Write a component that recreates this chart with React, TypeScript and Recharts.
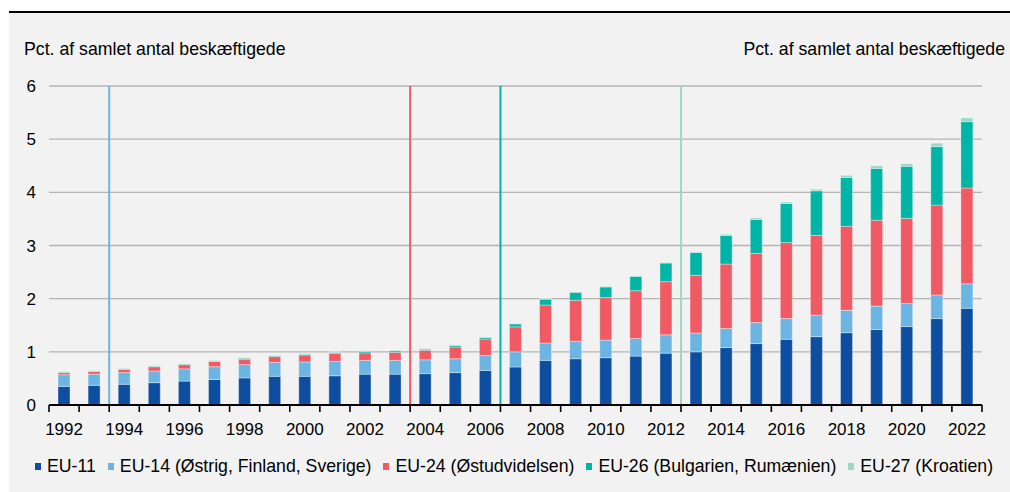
import { Bar, BarChart, CartesianGrid, ReferenceLine, XAxis, YAxis } from "recharts";

// Beskæftigede fra EU-lande, andel af samlet beskæftigelse, stablet efter
// udvidelsesrunde. Lodrette streger markerer udvidelserne.

const years = [
  "1992", "1993", "1994", "1995", "1996", "1997", "1998", "1999", "2000", "2001",
  "2002", "2003", "2004", "2005", "2006", "2007", "2008", "2009", "2010", "2011",
  "2012", "2013", "2014", "2015", "2016", "2017", "2018", "2019", "2020", "2021",
  "2022",
];

const eu11 = [
  0.35, 0.37, 0.39, 0.42, 0.45, 0.48, 0.51, 0.54, 0.54, 0.55, 0.58, 0.58, 0.59,
  0.61, 0.65, 0.715, 0.84, 0.87, 0.89, 0.92, 0.975, 1.0, 1.08, 1.155, 1.235,
  1.285, 1.36, 1.42, 1.475, 1.625, 1.82,
];
const eu14 = [
  0.22, 0.21, 0.22, 0.22, 0.23, 0.24, 0.25, 0.26, 0.27, 0.27, 0.26, 0.26, 0.26,
  0.26, 0.28, 0.285, 0.325, 0.33, 0.33, 0.33, 0.345, 0.355, 0.36, 0.395, 0.39,
  0.405, 0.42, 0.44, 0.435, 0.445, 0.46,
];
const eu24 = [
  0.04, 0.05, 0.06, 0.08, 0.08, 0.1, 0.1, 0.11, 0.13, 0.15, 0.14, 0.15, 0.18,
  0.22, 0.31, 0.47, 0.715, 0.77, 0.8, 0.9, 1.0, 1.085, 1.21, 1.3, 1.43, 1.5,
  1.58, 1.615, 1.6, 1.69, 1.8,
];
const eu26 = [
  0.01, 0.01, 0.01, 0.01, 0.01, 0.01, 0.02, 0.015, 0.015, 0.02, 0.03, 0.03,
  0.02, 0.03, 0.03, 0.055, 0.11, 0.15, 0.2, 0.27, 0.35, 0.43, 0.54, 0.64, 0.735,
  0.84, 0.92, 0.975, 0.98, 1.1, 1.25,
];
const eu27 = [
  0.012, 0.012, 0.012, 0.012, 0.012, 0.012, 0.012, 0.012, 0.012, 0.012, 0.012,
  0.012, 0.012, 0.012, 0.012, 0.012, 0.012, 0.012, 0.012, 0.012, 0.012, 0.015,
  0.02, 0.03, 0.03, 0.03, 0.04, 0.05, 0.05, 0.065, 0.07,
];

const yTicks = [0, 1, 2, 3, 4, 5, 6];

// første år efter hver udvidelse (streg ved starten af året)
const enlargements = [
  { year: "1994", color: "#6cb4e2" },
  { year: "2004", color: "#f05a64" },
  { year: "2007", color: "#00b5a5" },
  { year: "2013", color: "#9ad9c5" },
];

const series = [
  { key: "eu11", name: "EU-11", color: "#0d4ea0" },
  { key: "eu14", name: "EU-14 (Østrig, Finland, Sverige)", color: "#6cb4e2" },
  { key: "eu24", name: "EU-24 (Østudvidelsen)", color: "#f05a64" },
  { key: "eu26", name: "EU-26 (Bulgarien, Rumænien)", color: "#00b5a5" },
  { key: "eu27", name: "EU-27 (Kroatien)", color: "#9ad9c5" },
];

const data = years.map((year, i) => ({
  year,
  eu11: eu11[i],
  eu14: eu14[i],
  eu24: eu24[i],
  eu26: eu26[i],
  eu27: eu27[i],
}));

const FONT = '"Liberation Sans", Arial, sans-serif';
const FS = 17; // aksetal
const FS_TXT = 17.7; // aksetitler og forklaring

// tick-streger mellem årene, årstal under hvert andet år
function YearTick(props: any) {
  const { x, y, payload, index, visibleTicksCount } = props;
  const off = payload?.offset ?? 15;
  const yr = Number(payload.value);
  return (
    <g>
      <line x1={x - off} x2={x - off} y1={y} y2={y + 7} stroke="#000" strokeWidth={1.6} />
      {index === visibleTicksCount - 1 && (
        <line x1={x + off} x2={x + off} y1={y} y2={y + 7} stroke="#000" strokeWidth={1.6} />
      )}
      {yr % 2 === 0 && (
        <text
          x={x}
          y={y + 18}
          dy="0.71em"
          textAnchor="middle"
          fontSize={FS}
          fontFamily={FONT}
          fill="#000"
        >
          {payload.value}
        </text>
      )}
    </g>
  );
}

export default function App() {
  return (
    <div
      style={{
        position: "absolute",
        left: 0,
        top: 0,
        width: 1010,
        height: 492,
        background: "#fff",
        fontFamily: FONT,
        overflow: "hidden",
      }}
    >
      <div style={{ position: "absolute", left: 9, top: 11, width: 1001, height: 2, background: "#000" }} />
      <div style={{ position: "absolute", left: 9, top: 13, width: 1001, height: 479, background: "#f2f2f2" }}>
        <BarChart
          width={1001}
          height={479}
          data={data}
          margin={{ top: 73, right: 0, bottom: 57, left: 0 }}
          barSize={12}
        >
          <CartesianGrid
            xAxisId="cat"
            yAxisId="left"
            vertical={false}
            stroke="#b4b4b4"
            strokeWidth={1.3}
          />
          <XAxis
            xAxisId="cat"
            dataKey="year"
            interval={0}
            tickSize={0}
            tickMargin={0}
            tickLine={false}
            axisLine={{ stroke: "#000", strokeWidth: 2 }}
            height={30}
            tick={(p: any) => <YearTick {...p} />}
          />
          <YAxis
            yAxisId="left"
            orientation="left"
            width={40}
            domain={[0, 6]}
            ticks={yTicks}
            axisLine={false}
            tickLine={false}
            tickMargin={7}
            tick={{ fill: "#000", fontSize: FS, fontFamily: FONT }}
          />
          <YAxis
            yAxisId="right"
            orientation="right"
            width={28}
            domain={[0, 6]}
            ticks={yTicks}
            axisLine={false}
            tickLine={false}
            tickMargin={7}
            tick={{ fill: "#000", fontSize: FS, fontFamily: FONT, textAnchor: "start" }}
          />
          {enlargements.map((e) => (
            <ReferenceLine
              key={e.year}
              xAxisId="cat"
              yAxisId="left"
              x={e.year}
              position="start"
              stroke={e.color}
              strokeWidth={2}
            />
          ))}
          {series.map((s) => (
            <Bar
              key={s.key}
              xAxisId="cat"
              yAxisId="left"
              dataKey={s.key}
              name={s.name}
              stackId="a"
              fill={s.color}
              stroke="#ffffff"
              strokeOpacity={0.45}
              strokeWidth={0.8}
              isAnimationActive={false}
            />
          ))}
        </BarChart>
      </div>
      <div style={{ position: "absolute", left: 24, top: 41, fontSize: FS_TXT, lineHeight: "17px", color: "#000" }}>
        Pct. af samlet antal beskæftigede
      </div>
      <div style={{ position: "absolute", right: 5, top: 41, fontSize: FS_TXT, lineHeight: "17px", color: "#000" }}>
        Pct. af samlet antal beskæftigede
      </div>
      <div
        style={{
          position: "absolute",
          left: 35,
          top: 457,
          display: "flex",
          alignItems: "center",
          fontSize: FS_TXT,
          lineHeight: "19px",
          color: "#000",
          whiteSpace: "nowrap",
        }}
      >
        {series.map((s) => (
          <span key={s.key} style={{ display: "flex", alignItems: "center", marginRight: 12 }}>
            <span style={{ width: 6, height: 7, background: s.color, marginRight: 6, display: "inline-block" }} />
            {s.name}
          </span>
        ))}
      </div>
    </div>
  );
}
